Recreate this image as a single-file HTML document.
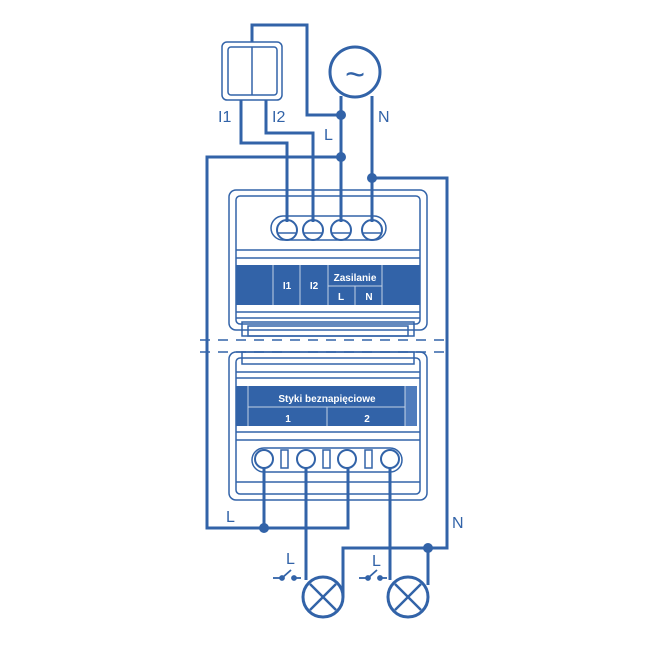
<!DOCTYPE html>
<html><head><meta charset="utf-8"><style>html,body{margin:0;padding:0;background:#fff}svg{display:block}</style></head>
<body>
<svg width="650" height="650" viewBox="0 0 650 650" xmlns="http://www.w3.org/2000/svg" font-family="Liberation Sans, sans-serif">
<g fill="none" stroke="#3263a8" stroke-width="1.5">
<rect x="229" y="190" width="198" height="140" rx="7"/>
<rect x="236" y="196" width="184" height="128" rx="4"/>
<line x1="236" y1="250" x2="420" y2="250"/>
<line x1="236" y1="258" x2="420" y2="258"/>
<line x1="236" y1="312" x2="420" y2="312"/>
<line x1="236" y1="318" x2="420" y2="318"/>
<rect x="242" y="322" width="172" height="14"/>
<rect x="248" y="326" width="160" height="10"/>
<rect x="229" y="352" width="198" height="148" rx="7"/>
<rect x="236" y="358" width="184" height="136" rx="4"/>
<rect x="242" y="352" width="172" height="12"/>
<line x1="236" y1="372" x2="420" y2="372"/>
<line x1="236" y1="378" x2="420" y2="378"/>
<line x1="236" y1="432" x2="420" y2="432"/>
<line x1="236" y1="440" x2="420" y2="440"/>
<line x1="236" y1="482" x2="420" y2="482"/>
<rect x="252" y="448" width="150" height="24" rx="12"/>
<rect x="271" y="216" width="115" height="24" rx="12"/>
</g>
<g stroke="#3263a8" stroke-width="1.5" stroke-dasharray="10,8">
<line x1="200" y1="340" x2="450" y2="340"/>
<line x1="200" y1="352" x2="450" y2="352"/>
</g>
<rect x="236" y="265" width="184" height="40" fill="#3263a8"/>
<g stroke="#fff" stroke-width="1" opacity="0.7">
<line x1="273" y1="265" x2="273" y2="305"/>
<line x1="300" y1="265" x2="300" y2="305"/>
<line x1="328" y1="265" x2="328" y2="305"/>
<line x1="382" y1="265" x2="382" y2="305"/>
<line x1="328" y1="286" x2="382" y2="286"/>
<line x1="355" y1="286" x2="355" y2="305"/>
</g>
<g fill="#fff" font-size="10" font-weight="bold" text-anchor="middle">
<text x="287" y="289">I1</text>
<text x="314" y="289">I2</text>
<text x="355" y="281">Zasilanie</text>
<text x="341" y="300">L</text>
<text x="369" y="300">N</text>
</g>
<rect x="236" y="386" width="181" height="40" fill="#3263a8"/>
<rect x="405" y="386" width="12" height="40" fill="#4f7cbd"/>
<g stroke="#fff" stroke-width="1" opacity="0.7">
<line x1="248" y1="386" x2="248" y2="426"/>
<line x1="405" y1="386" x2="405" y2="426"/>
<line x1="248" y1="407" x2="405" y2="407"/>
<line x1="327" y1="407" x2="327" y2="426"/>
</g>
<g fill="#fff" font-size="10" font-weight="bold" text-anchor="middle">
<text x="327" y="402">Styki beznapięciowe</text>
<text x="288" y="422">1</text>
<text x="367" y="422">2</text>
</g>
<g fill="#fff" stroke="#3263a8" stroke-width="2">
<circle cx="287" cy="230" r="10"/><circle cx="313" cy="230" r="10"/><circle cx="341" cy="230" r="10"/><circle cx="372" cy="230" r="10"/>
<circle cx="264" cy="459" r="9"/><circle cx="306" cy="459" r="9"/><circle cx="347" cy="459" r="9"/><circle cx="390" cy="459" r="9"/>
</g>
<g fill="none" stroke="#3263a8" stroke-width="1.5">
<line x1="277" y1="233" x2="297" y2="233"/><line x1="303" y1="233" x2="323" y2="233"/><line x1="331" y1="233" x2="351" y2="233"/><line x1="362" y1="233" x2="382" y2="233"/>
<rect x="281" y="450" width="7" height="18"/><rect x="323" y="450" width="7" height="18"/><rect x="365" y="450" width="7" height="18"/>
</g>
<g fill="none" stroke="#3263a8" stroke-width="3" stroke-linejoin="miter">
<polyline points="252,42 252,25 307,25 307,115 341,115"/>
<line x1="341" y1="96" x2="341" y2="222"/>
<line x1="372" y1="96" x2="372" y2="222"/>
<polyline points="241,100 241,143 287,143 287,222"/>
<polyline points="266,100 266,133 313,133 313,222"/>
<polyline points="341,157 207,157 207,528 348,528 348,468"/>
<line x1="264" y1="468" x2="264" y2="528"/>
<polyline points="372,178 447,178 447,548 343,548 343,597"/>
<line x1="306" y1="468" x2="306" y2="580"/>
<line x1="390" y1="468" x2="390" y2="580"/>
<line x1="428" y1="548" x2="428" y2="585"/>
</g>
<rect x="222" y="42" width="60" height="58" rx="5" fill="none" stroke="#3263a8" stroke-width="1.5"/>
<rect x="228" y="47" width="49" height="48" rx="3" fill="none" stroke="#3263a8" stroke-width="1.5"/>
<line x1="252" y1="47" x2="252" y2="95" stroke="#3263a8" stroke-width="1.5"/>
<circle cx="355" cy="72" r="25" fill="#fff" stroke="#3263a8" stroke-width="3"/>
<text x="355" y="86" font-size="34" fill="#3263a8" text-anchor="middle">~</text>
<g fill="#fff" stroke="#3263a8" stroke-width="3">
<circle cx="323" cy="597" r="20"/><circle cx="408" cy="597" r="20"/>
</g>
<g stroke="#3263a8" stroke-width="2.5">
<line x1="310" y1="584" x2="336" y2="610"/><line x1="336" y1="584" x2="310" y2="610"/>
<line x1="395" y1="584" x2="421" y2="610"/><line x1="421" y1="584" x2="395" y2="610"/>
</g>
<g stroke="#3263a8" stroke-width="1.8" fill="#3263a8">
<line x1="273" y1="578" x2="282" y2="578"/><circle cx="282" cy="578" r="2"/><line x1="282" y1="578" x2="291" y2="570"/><circle cx="294" cy="578" r="2"/><line x1="294" y1="578" x2="301" y2="578"/>
<line x1="359" y1="578" x2="368" y2="578"/><circle cx="368" cy="578" r="2"/><line x1="368" y1="578" x2="377" y2="570"/><circle cx="380" cy="578" r="2"/><line x1="380" y1="578" x2="387" y2="578"/>
</g>
<g fill="#3263a8">
<circle cx="341" cy="115" r="5"/><circle cx="341" cy="157" r="5"/><circle cx="372" cy="178" r="5"/>
<circle cx="264" cy="528" r="5"/><circle cx="428" cy="548" r="5"/>
</g>
<g fill="#3263a8" font-size="16">
<text x="218" y="122">I1</text>
<text x="272" y="122">I2</text>
<text x="324" y="140">L</text>
<text x="378" y="122">N</text>
<text x="226" y="522">L</text>
<text x="452" y="528">N</text>
<text x="286" y="564">L</text>
<text x="372" y="566">L</text>
</g>
</svg>
</body></html>
